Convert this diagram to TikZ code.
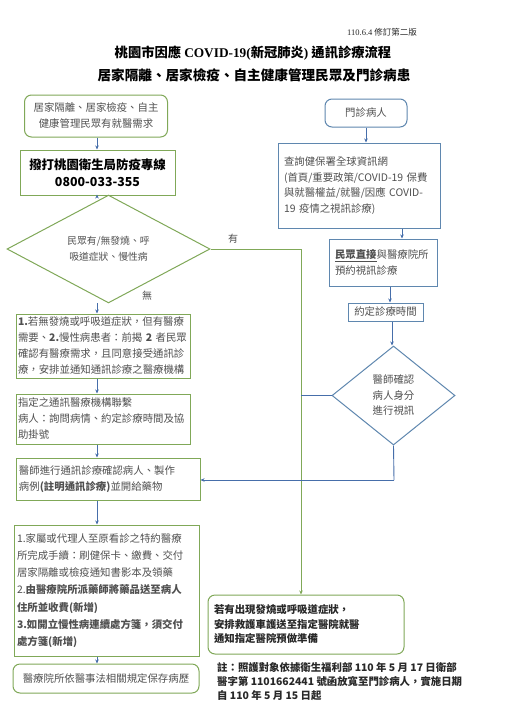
\documentclass[tikz,border=0pt]{standalone}
\usepackage{fontspec}
\setmainfont{Noto Sans CJK TC}
\newfontfamily\serifb{Liberation Serif}
\usetikzlibrary{arrows.meta,shapes.geometric}
\definecolor{gborder}{RGB}{128,168,88}
\definecolor{bborder}{RGB}{95,135,175}
\definecolor{barrow}{RGB}{70,110,170}
\definecolor{txt}{RGB}{80,80,80}
\definecolor{dtxt}{RGB}{40,40,40}
\tikzset{
  gbox/.style={draw=gborder, line width=1pt, inner sep=0pt, text=txt},
  bbox/.style={draw=bborder, line width=1pt, inner sep=0pt, text=txt},
  rbox/.style={rounded corners=7pt},
  body/.style={font=\fontsize{10.4}{16}\selectfont},
  barr/.style={draw=barrow, line width=0.8pt, -{Stealth[length=4pt,width=3.5pt]}},
  bline/.style={draw=barrow, line width=0.9pt},
  gline/.style={draw=gborder, line width=0.9pt},
  garr/.style={draw=gborder, line width=0.9pt, -{Stealth[length=4pt,width=3.5pt]}},
  lbl/.style={font=\fontsize{10}{12}\selectfont, text=txt, inner sep=0pt}
}
\begin{document}
\begin{tikzpicture}[x=1pt,y=-1pt]
\useasboundingbox[fill=white] (0,0) rectangle (509,720);

% titles
\node[anchor=west, inner sep=0pt, text=dtxt] (ver) at (347,32) {\fontsize{8.5}{10}\selectfont{\serifb 110.6.4} 修訂第二版};
\node[inner sep=0pt, text=black] (t1) at (253,53) {\fontsize{13.3}{15}\selectfont\bfseries 桃園市因應 {\serifb\bfseries COVID-19(}新冠肺炎{\serifb\bfseries )} 通訊診療流程};
\node[inner sep=0pt, text=black] (t2) at (254,75) {\fontsize{13.6}{15}\selectfont\bfseries 居家隔離、居家檢疫、自主健康管理民眾及門診病患};

\coordinate (lx) at (97,0);

% left column
\node[gbox, rbox, body, align=center, minimum width=143pt, minimum height=42pt] (A) at (96,116)
  {居家隔離、居家檢疫、自主\\健康管理民眾有就醫需求};
\node[gbox, align=center, minimum width=155pt, minimum height=45pt, text=black,
      font=\fontsize{12.4}{16.5}\selectfont\bfseries] (B) at (97.5,172.5)
  {撥打桃園衛生局防疫專線\\0800-033-355};
\node[gbox, diamond, minimum width=203pt, minimum height=83pt, align=center,
      font=\fontsize{9.8}{16.5}\selectfont] (Dm) at (108.5,249)
  {民眾有/無發燒、呼\\吸道症狀、慢性病};
\node[lbl] (you) at (233,239) {有};
\node[lbl] (wu) at (147,296) {無};

\node[gbox, body, align=left, text width=170pt, minimum width=174pt, minimum height=64pt] (C) at (103,346)
  {\textbf{1.}若無發燒或呼吸道症狀，但有醫療\\需要、\textbf{2.}慢性病患者：前揭 \textbf{2} 者民眾\\確認有醫療需求，且同意接受通訊診\\療，安排並通知通訊診療之醫療機構};
\node[gbox, body, align=left, text width=170pt, minimum width=174pt, minimum height=50pt] (D) at (103,419)
  {指定之通訊醫療機構聯繫\\病人：詢問病情、約定診療時間及協\\助掛號};
\node[gbox, body, align=left, text width=178pt, minimum width=184pt, minimum height=42pt] (E) at (108,479)
  {醫師進行通訊診療確認病人、製作\\病例\textbf{(註明通訊診療)}並開給藥物};
\node[gbox, align=left, text width=179pt, minimum width=185pt, minimum height=131pt,
      font=\fontsize{10.4}{17.2}\selectfont] (F) at (106.5,590.5)
  {1.家屬或代理人至原看診之特約醫療\\所完成手續：刷健保卡、繳費、交付\\居家隔離或檢疫通知書影本及領藥\\2.\textbf{由醫療院所派藥師將藥品送至病人}\\\textbf{住所並收費(新增)}\\\textbf{3.如開立慢性病連續處方箋，須交付}\\\textbf{處方箋(新增)}};
\node[gbox, rbox, body, align=center, minimum width=186pt, minimum height=29pt] (G) at (106,678.5)
  {醫療院所依醫事法相關規定保存病歷};

% right column
\node[bbox, rbox, body, align=center, minimum width=82pt, minimum height=28pt] (H) at (366,113) {門診病人};
\node[bbox, align=left, text width=150pt, minimum width=162pt, minimum height=85pt,
      font=\fontsize{10.4}{15.7}\selectfont] (I) at (359,185.5)
  {查詢健保署全球資訊網\\(首頁/重要政策/COVID-19 保費\\與就醫權益/就醫/因應 COVID-\\19 疫情之視訊診療)};
\node[bbox, body, align=left, text width=96pt, minimum width=108pt, minimum height=47pt] (J) at (383,262.5)
  {\underline{\textbf{民眾直接}}與醫療院所\\預約視訊診療};
\node[bbox, body, align=center, minimum width=75pt, minimum height=18pt] (K) at (385.5,312) {約定診療時間};
\node[bbox, diamond, minimum width=123pt, minimum height=99pt, align=center,
      font=\fontsize{10.4}{15.5}\selectfont] (L) at (393.5,395.5)
  {醫師確認\\病人身分\\進行視訊};

\node[gbox, rbox, align=left, text width=184pt, minimum width=196pt, minimum height=59pt, text=dtxt,
      font=\fontsize{10.4}{14.5}\selectfont\bfseries] (M) at (306,624.5)
  {若有出現發燒或呼吸道症狀，\\安排救護車護送至指定醫院就醫\\通知指定醫院預做準備};
\node[anchor=north west, align=left, inner sep=0pt, text=dtxt,
      font=\fontsize{10.4}{14}\selectfont\bfseries] (N) at (217,662)
  {註：照護對象依據衛生福利部 110 年 5 月 17 日衛部\\醫字第 1101662441 號函放寬至門診病人，實施日期\\自 110 年 5 月 15 日起};

% connectors left
\draw[barr] (A.south -| lx) -- (B.north -| lx);
\draw[barr] (B.south -| lx) -- (Dm.north -| lx);
\draw[barr] (Dm.south -| lx) -- (C.north -| lx);
\draw[barr] (C.south -| lx) -- (D.north -| lx);
\draw[barr] (D.south -| lx) -- (E.north -| lx);
\draw[barr] (E.south -| lx) -- (F.north -| lx);
\draw[barr] (F.south -| lx) -- (G.north -| lx);

% connectors right
\coordinate (gc) at (301,249);
\draw[gline] (Dm.east) -- (gc);
\draw[garr] (gc) -- (gc |- M.north);
\draw[barr] (H.south) -- (I.north -| H.south);
\coordinate (rx1) at (402,0);
\draw[barr] (I.south -| rx1) -- (J.north -| rx1);
\coordinate (rx2) at (390,0);
\draw[barr] (J.south -| rx2) -- (K.north -| rx2);
\coordinate (rx3) at (392,0);
\draw[barr] (K.south -| rx3) -- (L.north -| rx3);
\draw[draw=barrow, line width=1.4pt] (L.west) -- (L.west -| gc);
\coordinate (lb) at (394,480);
\draw[bline] (L.south) -- (lb);
\draw[barr] (lb) -- (lb -| E.east);
\end{tikzpicture}
\end{document}
